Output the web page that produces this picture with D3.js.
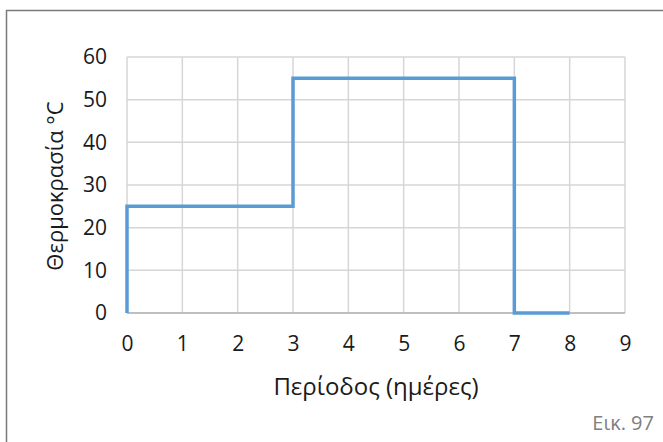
<!DOCTYPE html>
<head>
    <meta charset="utf-8">
    <title>Step Chart</title>
    <script src="https://d3js.org/d3.v7.min.js"></script>
    <style>
        body { margin: 0; background: #fff; }
        text { font-family: "Open Sans", "Noto Sans", sans-serif; fill: #1a1a1a; }
    </style>
</head>
<body>
    <div id="container"></div>
    <script>
        //---------------------------DATA-------------------------------//
        var days = [0, 0, 3, 7, 8];
        var temps = [0, 25, 55, 0, 0];
        var xTicks = [0, 1, 2, 3, 4, 5, 6, 7, 8, 9];
        var yTicks = [0, 10, 20, 30, 40, 50, 60];
        var xTitle = "Περίοδος (ημέρες)";
        var yTitle = "Θερμοκρασία °C";
        var caption = "Εικ. 97";

        var W = 663, H = 442;
        var margin = { top: 57, right: 38, bottom: 129, left: 127 };
        var width = W - margin.left - margin.right,
            height = H - margin.top - margin.bottom;

        var svg = d3.select("#container").append("svg")
            .attr("width", W).attr("height", H);

        // frame
        svg.append("path")
            .attr("d", "M6.5," + (H + 2) + "V10.5H" + (W + 2))
            .attr("fill", "none")
            .attr("stroke", "#7a7a7a")
            .attr("stroke-width", 1.5);

        var g = svg.append("g")
            .attr("transform", "translate(" + margin.left + "," + margin.top + ")");

        var x = d3.scaleLinear().domain([0, 9]).range([0, width]);
        var y = d3.scaleLinear().domain([0, 60]).range([height, 0]);

        //---------------------------GRID-------------------------------//
        g.append("g").selectAll("line")
            .data(xTicks)
            .enter().append("line")
            .attr("x1", d => x(d)).attr("x2", d => x(d))
            .attr("y1", 0).attr("y2", height)
            .attr("stroke", "#d6d6d6").attr("stroke-width", 1.5);

        g.append("g").selectAll("line")
            .data(yTicks)
            .enter().append("line")
            .attr("x1", 0).attr("x2", width)
            .attr("y1", d => y(d)).attr("y2", d => y(d))
            .attr("stroke", d => d === 0 ? "#bfbfbf" : "#d6d6d6")
            .attr("stroke-width", d => d === 0 ? 2 : 1.5);

        //---------------------------AXES-------------------------------//
        var xAxis = d3.axisBottom(x).tickValues(xTicks).tickSize(0).tickPadding(23);
        var gx = g.append("g")
            .attr("transform", "translate(0," + height + ")")
            .call(xAxis);
        gx.select(".domain").remove();
        gx.selectAll("text").style("font-size", "21px").attr("fill", "#1a1a1a");

        var yAxis = d3.axisLeft(y).tickValues(yTicks).tickSize(0).tickPadding(20);
        var gy = g.append("g").call(yAxis);
        gy.select(".domain").remove();
        gy.selectAll("text").style("font-size", "21px").attr("fill", "#1a1a1a");

        //---------------------------LINE-------------------------------//
        var line = d3.line()
            .x((d, i) => x(days[i]))
            .y((d, i) => y(temps[i]))
            .curve(d3.curveStepAfter);

        g.append("path")
            .datum(temps)
            .attr("d", line)
            .attr("fill", "none")
            .attr("stroke", "#5b9bd5")
            .attr("stroke-width", 3.5)
            .attr("stroke-linejoin", "miter");

        //---------------------------TITLES-----------------------------//
        svg.append("text")
            .attr("x", margin.left + width / 2)
            .attr("y", 395)
            .attr("text-anchor", "middle")
            .style("font-size", "24px")
            .text(xTitle);

        svg.append("text")
            .attr("transform", "translate(63," + (margin.top + height / 2 + 1) + ") rotate(-90)")
            .attr("text-anchor", "middle")
            .style("font-size", "22px")
            .text(yTitle);

        svg.append("text")
            .attr("x", 654)
            .attr("y", 430)
            .attr("text-anchor", "end")
            .style("font-size", "20px")
            .style("fill", "#7f7f7f")
            .text(caption);
    </script>
</body>
